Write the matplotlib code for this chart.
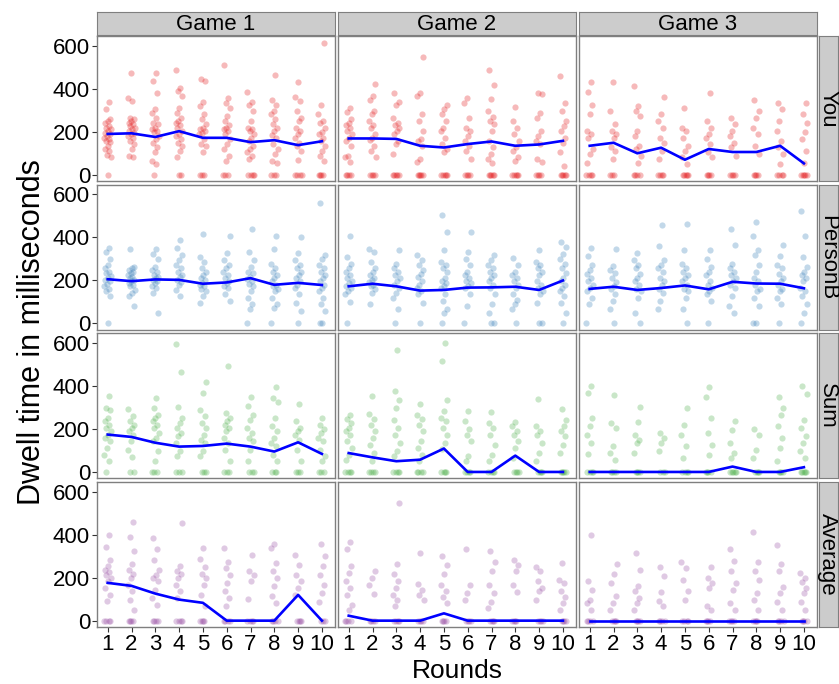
import matplotlib
matplotlib.use("Agg")
import matplotlib.pyplot as plt
import numpy as np

plt.rcParams['font.family'] = ['Liberation Sans', 'DejaVu Sans']

games = ["Game 1", "Game 2", "Game 3"]
measures = ["You", "PersonB", "Sum", "Average"]
rounds = list(range(1, 11))
colors = {"You": "#E41A1C", "PersonB": "#377EB8", "Sum": "#4DAF4A", "Average": "#984EA3"}

# median lines (ms) per measure, per game
median_you = [
    [189, 192, 175, 202, 171, 171, 151, 160, 137, 155],
    [168, 168, 166, 134, 126, 142, 154, 134, 140, 157],
    [134, 148, 99, 125, 69, 119, 105, 105, 134, 52],
]
median_personb = [
    [205, 196, 204, 202, 184, 190, 210, 179, 188, 178],
    [172, 184, 172, 152, 155, 166, 167, 170, 155, 199],
    [160, 170, 155, 164, 176, 158, 193, 185, 184, 163],
]
median_sum = [
    [174, 163, 136, 118, 121, 132, 118, 95, 138, 84],
    [88, 68, 50, 57, 109, 0, 0, 76, 0, 0],
    [0, 0, 0, 0, 0, 0, 25, 0, 0, 22],
]
median_avg = [
    [176, 162, 126, 98, 83, 0, 0, 0, 120, 0],
    [23, 0, 0, 0, 34, 0, 0, 0, 0, 0],
    [0, 0, 0, 0, 0, 0, 0, 0, 0, 0],
]

# number of zero-valued observations per round
zeros_you = [
    [1, 0, 1, 2, 3, 3, 4, 3, 4, 4],
    [4, 4, 5, 5, 5, 4, 5, 5, 4, 5],
    [4, 3, 4, 4, 5, 4, 4, 4, 4, 5],
]
zeros_personb = [
    [1, 0, 0, 0, 0, 0, 1, 1, 1, 2],
    [1, 0, 1, 1, 1, 1, 2, 1, 2, 1],
    [1, 1, 1, 0, 1, 1, 0, 2, 1, 1],
]
zeros_sum = [
    [1, 2, 3, 3, 3, 3, 3, 3, 3, 3],
    [4, 4, 4, 4, 4, 4, 4, 4, 4, 5],
    [4, 4, 4, 3, 4, 4, 5, 4, 4, 5],
]
zeros_avg = [
    [4, 4, 4, 4, 4, 4, 4, 4, 4, 3],
    [4, 4, 4, 4, 4, 4, 4, 4, 4, 4],
    [4, 4, 4, 4, 4, 4, 4, 4, 4, 4],
]

# non-zero observations (ms) per round
points_you = [
    [
        [337, 303, 260, 250, 242, 226, 219, 211, 203, 195, 188, 180, 172, 165, 157, 150, 134, 119, 111, 92, 80],
        [473, 357, 342, 265, 257, 250, 242, 234, 226, 219, 211, 203, 195, 188, 180, 172, 157, 142, 119, 88, 80],
        [471, 437, 379, 303, 288, 265, 242, 234, 219, 210, 203, 196, 180, 165, 149, 126, 103, 65, 49],
        [485, 403, 388, 365, 311, 288, 265, 250, 242, 230, 219, 203, 190, 180, 165, 149, 134, 111, 80],
        [447, 437, 337, 319, 280, 257, 234, 219, 210, 203, 195, 188, 165, 142, 134, 103],
        [511, 357, 334, 311, 273, 250, 230, 219, 210, 203, 188, 165, 142, 119, 88, 65],
        [385, 339, 326, 296, 250, 219, 210, 203, 188, 170, 157, 134, 119, 103, 88, 72],
        [463, 347, 323, 296, 280, 257, 234, 215, 203, 185, 172, 142, 119, 95, 65, 54],
        [430, 362, 342, 296, 265, 250, 219, 203, 190, 172, 149, 134, 111, 68],
        [611, 323, 280, 250, 242, 219, 200, 188, 172, 157, 134, 111, 88, 65],
    ],
    [
        [308, 290, 259, 242, 230, 219, 203, 190, 172, 157, 134, 88, 80, 57],
        [422, 365, 347, 296, 280, 250, 230, 219, 188, 172, 160, 134, 111, 83],
        [380, 339, 326, 265, 242, 230, 219, 203, 188, 157, 142, 95],
        [545, 380, 365, 280, 250, 203, 165, 157, 134, 72, 57],
        [326, 303, 280, 250, 219, 203, 172, 142, 119, 103],
        [357, 334, 265, 219, 203, 180, 157, 134, 111, 72],
        [488, 419, 350, 296, 270, 250, 234, 203, 157, 126, 95, 72, 52],
        [316, 250, 219, 188, 157, 126, 111, 80, 65],
        [380, 373, 288, 265, 203, 180, 157, 142, 72, 57],
        [460, 334, 296, 250, 226, 203, 172, 149, 103, 42],
    ],
    [
        [430, 383, 326, 280, 203, 188, 172, 119, 95, 52],
        [430, 296, 234, 203, 188, 172, 126, 111, 72],
        [410, 319, 296, 273, 203, 180, 134, 119, 88, 52],
        [363, 280, 250, 219, 172, 149, 111, 72],
        [311, 219, 203, 172, 134, 111, 80, 49],
        [380, 250, 219, 188, 172, 142, 103, 80],
        [265, 234, 203, 180, 149, 126, 88],
        [345, 296, 265, 219, 188, 134, 95],
        [334, 303, 250, 203, 157, 126, 95, 49],
        [334, 280, 242, 196, 165, 111, 52],
    ],
]
points_personb = [
    [
        [351, 331, 298, 271, 255, 240, 233, 220, 210, 200, 195, 185, 172, 160, 149, 126],
        [344, 263, 255, 248, 240, 233, 225, 217, 210, 202, 195, 187, 180, 172, 157, 141, 126, 81],
        [347, 324, 301, 263, 250, 240, 225, 217, 210, 202, 195, 187, 175, 164, 141, 50],
        [389, 350, 319, 293, 270, 255, 240, 225, 215, 202, 190, 179, 157, 126],
        [415, 309, 286, 255, 240, 225, 210, 202, 187, 180, 172, 160, 149, 126, 96],
        [407, 328, 293, 271, 255, 240, 225, 210, 195, 187, 175, 164, 134, 103],
        [438, 331, 293, 263, 240, 233, 215, 205, 195, 185, 172, 149, 119, 88, 65],
        [407, 347, 278, 255, 240, 225, 210, 195, 180, 172, 160, 149, 119, 88, 70],
        [403, 328, 293, 271, 255, 240, 225, 210, 195, 180, 164, 134, 96, 58],
        [559, 316, 301, 270, 255, 240, 225, 210, 195, 179, 164, 149, 119, 88, 58],
    ],
    [
        [407, 309, 278, 255, 240, 225, 210, 195, 187, 175, 164, 150, 134, 100],
        [348, 331, 286, 255, 240, 225, 210, 202, 190, 180, 172, 160, 141, 88],
        [342, 278, 255, 240, 225, 210, 195, 180, 164, 140, 119, 65],
        [316, 293, 270, 248, 230, 217, 195, 180, 164, 150, 134, 96],
        [504, 423, 340, 286, 270, 255, 240, 210, 195, 187, 175, 164, 134, 103, 65, 47],
        [423, 331, 301, 270, 240, 225, 210, 195, 187, 175, 164, 134, 79],
        [319, 293, 270, 255, 240, 225, 210, 195, 180, 164, 134, 88, 50],
        [304, 270, 240, 225, 210, 195, 180, 164, 134, 110, 88, 65],
        [340, 286, 270, 255, 240, 225, 195, 180, 164, 150, 134, 96],
        [377, 354, 324, 300, 278, 255, 233, 210, 195, 179, 165, 149, 126, 96, 50],
    ],
    [
        [351, 313, 270, 248, 230, 210, 195, 179, 165, 149, 119, 88],
        [347, 267, 250, 233, 210, 190, 172, 160, 134, 103, 65],
        [328, 293, 270, 255, 230, 210, 195, 179, 160, 149, 119, 49],
        [457, 359, 293, 270, 255, 240, 210, 195, 179, 160, 141, 103, 65],
        [464, 340, 278, 255, 240, 225, 210, 195, 179, 160, 149, 119, 65],
        [340, 301, 263, 240, 225, 195, 180, 164, 150, 134, 103],
        [441, 362, 278, 255, 240, 225, 210, 195, 180, 164, 126, 81, 49],
        [472, 407, 340, 316, 271, 240, 210, 195, 179, 160, 149, 119, 81],
        [362, 313, 270, 255, 230, 210, 195, 179, 160, 149, 119, 88],
        [521, 407, 309, 263, 240, 225, 210, 195, 164, 150, 126, 88, 50],
    ],
]
points_sum = [
    [
        [355, 298, 290, 251, 235, 220, 205, 189, 174, 160, 143, 112, 81, 53],
        [295, 259, 236, 220, 205, 190, 174, 143, 104, 68],
        [344, 298, 267, 250, 236, 220, 205, 181, 160, 143, 96, 50],
        [597, 467, 302, 251, 230, 205, 180, 166, 135, 96, 73],
        [417, 366, 290, 259, 230, 205, 174, 150, 135, 96, 73],
        [491, 274, 251, 235, 220, 205, 189, 158, 135, 104, 50],
        [349, 305, 267, 240, 205, 181, 160, 143, 104, 50],
        [394, 344, 326, 251, 212, 189, 158, 135, 119, 81, 50],
        [315, 239, 205, 190, 174, 150, 104, 50],
        [251, 220, 200, 181, 160, 143, 104, 73, 50],
    ],
    [
        [267, 245, 228, 205, 190, 174, 143, 112, 81, 57],
        [353, 270, 245, 220, 189, 158, 127, 88, 50],
        [566, 375, 336, 298, 243, 205, 174, 135, 96, 73],
        [316, 267, 245, 220, 189, 143, 112, 81, 53],
        [600, 515, 333, 282, 250, 236, 205, 174, 135, 109],
        [284, 236, 200, 174, 143, 73, 50],
        [279, 230, 205, 174, 127, 81, 50],
        [231, 212, 190, 174, 143, 112, 65],
        [341, 212, 190, 174, 135, 88, 50],
        [293, 243, 212, 190, 166, 127, 88],
    ],
    [
        [398, 367, 251, 212, 174, 135, 84],
        [356, 228, 205, 119, 88, 57],
        [302, 233, 174, 150, 135, 88],
        [181, 158, 135, 96],
        [299, 220, 174, 119, 65],
        [394, 349, 251, 181, 127, 81],
        [236, 197, 135, 88, 65],
        [202, 174, 104, 65],
        [349, 298, 267, 212, 158, 112, 50],
        [398, 363, 243, 205, 166, 135, 96, 65],
    ],
]
points_avg = [
    [
        [401, 342, 284, 255, 237, 225, 214, 200, 183, 151, 120, 92],
        [459, 390, 323, 264, 237, 215, 198, 167, 136, 97, 50],
        [384, 332, 282, 237, 214, 200, 183, 144, 105, 73],
        [454, 253, 229, 215, 198, 167, 136, 105],
        [339, 287, 248, 215, 198, 167, 120, 66],
        [339, 271, 245, 214, 175, 136, 105, 66],
        [307, 229, 214, 183, 101],
        [359, 339, 268, 229, 198, 159, 115, 84],
        [307, 261, 214, 183, 151, 120],
        [359, 300, 253, 214, 167, 128, 89],
    ],
    [
        [367, 334, 253, 222, 183, 151, 120, 73, 50],
        [232, 198, 167, 125],
        [549, 265, 217, 186, 151, 120, 97, 66],
        [315, 170, 144, 120, 97],
        [300, 261, 217, 167, 136, 112, 81],
        [334, 167, 128, 97],
        [323, 273, 229, 167, 128, 86, 61],
        [284, 261, 229, 167, 133],
        [248, 229, 183, 151, 136, 98],
        [267, 190, 175, 136, 112, 84, 50],
    ],
    [
        [399, 183, 144, 98, 81, 50],
        [264, 217, 175, 115, 81, 50],
        [315, 237, 159, 136, 105, 84, 50],
        [250, 206, 133, 92, 70],
        [275, 243, 190, 136, 97],
        [250, 198, 175, 151, 66, 50],
        [334, 278, 232, 175, 144, 81, 50],
        [414, 273, 232, 190, 128, 97, 50],
        [350, 264, 232, 158, 128, 86, 50],
        [222, 198, 179, 151, 128, 88, 50],
    ],
]

medians = {"You": median_you, "PersonB": median_personb, "Sum": median_sum, "Average": median_avg}
zeros = {"You": zeros_you, "PersonB": zeros_personb, "Sum": zeros_sum, "Average": zeros_avg}
points = {"You": points_you, "PersonB": points_personb, "Sum": points_sum, "Average": points_avg}

W, H = 839, 684
fig = plt.figure(figsize=(W / 100, H / 100), dpi=100)

col_left = [97, 338, 579]
col_w = 238
row_top = 36
row_h = 145
row_gap = 3.7
border = "#7F7F7F"
strip_bg = "#CCCCCC"


def px_axes(x0, y0, w, h):
    return fig.add_axes([x0 / W, 1 - (y0 + h) / H, w / W, h / H])


golden = 0.6180339887

for ri, m in enumerate(measures):
    top = row_top + ri * (row_h + row_gap)
    for gi, g in enumerate(games):
        ax = px_axes(col_left[gi], top, col_w, row_h)
        col = colors[m]
        k = 0
        xs, ys = [], []
        for rr, r in enumerate(rounds):
            vals = list(points[m][gi][rr]) + [0] * zeros[m][gi][rr]
            for v in vals:
                k += 1
                off = ((k * golden + 0.17 * rr) % 1.0 - 0.5) * 0.3
                xs.append(r + off)
                ys.append(v)
        ax.scatter(xs, ys, s=20, color=col, alpha=0.3, linewidths=0, zorder=2)
        ax.plot(rounds, medians[m][gi], color="#0000FF", lw=1.9, zorder=3,
                solid_joinstyle="round")
        ax.set_xlim(0.55, 10.55)
        ax.set_ylim(-30, 645)
        ax.set_xticks(rounds)
        ax.set_yticks([0, 200, 400, 600])
        for s in ax.spines.values():
            s.set_color(border)
            s.set_linewidth(1.0)
        ax.tick_params(axis="both", colors="#333333", length=3.5, width=0.8,
                       labelsize=16, labelcolor="black", pad=1.5)
        if gi == 0:
            ax.set_yticklabels(["0", "200", "400", "600"])
        else:
            ax.tick_params(axis="y", length=0, labelleft=False)
        if ri == len(measures) - 1:
            ax.set_xticklabels([str(r) for r in rounds])
        else:
            ax.tick_params(axis="x", length=0, labelbottom=False)

        # top strips
        if ri == 0:
            sax = px_axes(col_left[gi], 12, col_w, 23)
            sax.set_facecolor(strip_bg)
            sax.set_xticks([]); sax.set_yticks([])
            for s in sax.spines.values():
                s.set_color(border)
            sax.text(0.5, 0.45, g, ha="center", va="center", fontsize=16,
                     transform=sax.transAxes)
        # right strips
        if gi == 2:
            rax = px_axes(819, top, 19, row_h)
            rax.set_facecolor(strip_bg)
            rax.set_xticks([]); rax.set_yticks([])
            for s in rax.spines.values():
                s.set_color(border)
            rax.text(0.45, 0.5, m, ha="center", va="center", fontsize=16,
                     rotation=-90, transform=rax.transAxes)

fig.text(457 / W, 1 - 683 / H, "Rounds", ha="center", va="bottom", fontsize=19)
fig.text(32 / W, 1 - 332 / H, "Dwell time in milliseconds", ha="center",
         va="center", fontsize=22, rotation=90)

fig.savefig("out.png", dpi=100)
